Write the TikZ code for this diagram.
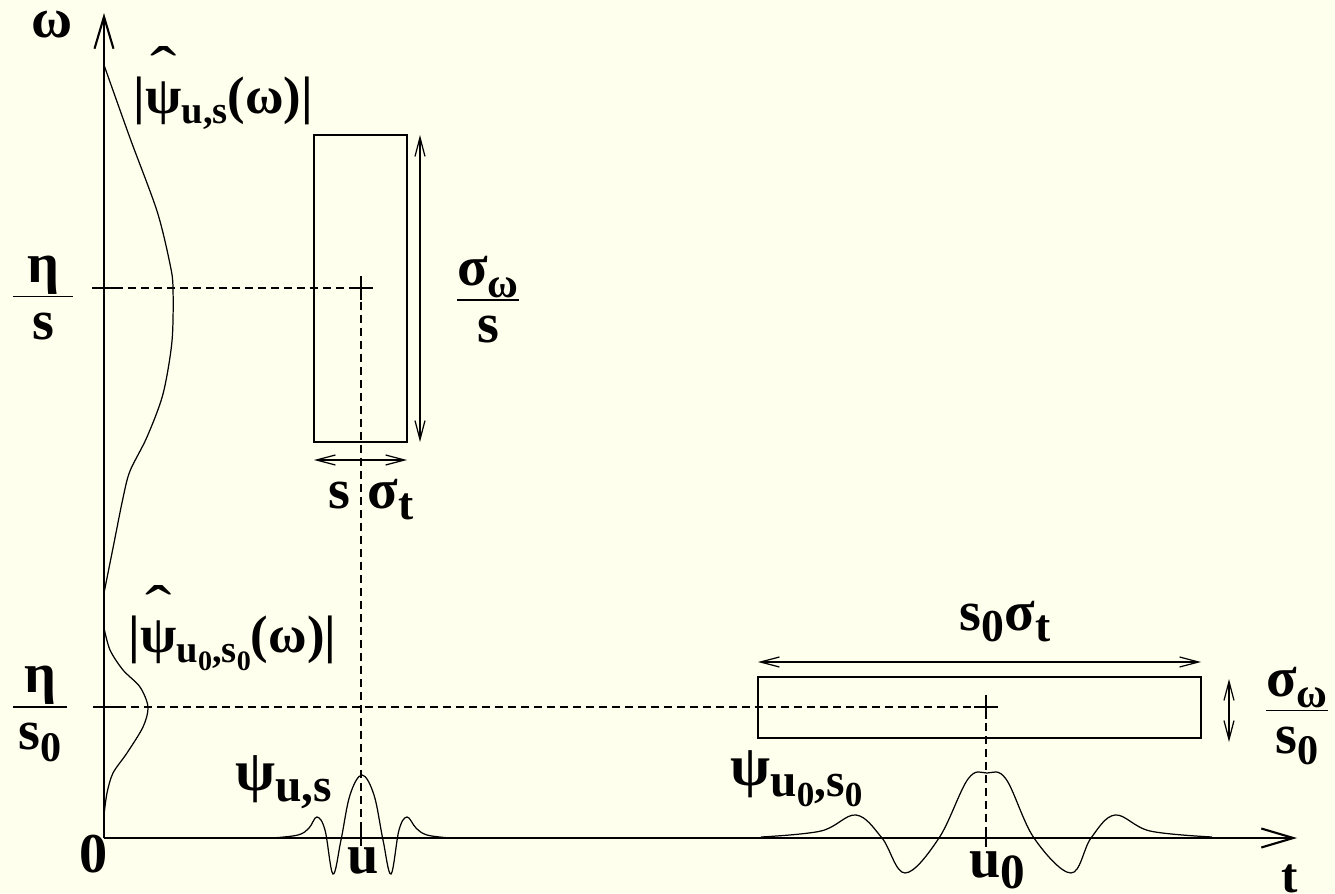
\documentclass[tikz,border=0pt]{standalone}
\usepackage{fontspec}
\setmainfont{Liberation Serif}
\usetikzlibrary{arrows.meta,calc}
\definecolor{paper}{HTML}{FFFFEE}
\newcommand{\fsz}[1]{\fontsize{#1}{#1}\selectfont}
\newcommand{\sbs}[2][12]{\raisebox{-0.45ex}{\fsz{#1}#2}}
\newcommand{\hpsi}{\ooalign{ψ\cr\hidewidth\raisebox{0.42em}{\scalebox{1.5}[1.2]{\mdseries ˆ}}\hidewidth\cr}}
\newcommand{\ffrac}[3][3pt]{$\textstyle\frac{\hbox{\kern#1#2\kern#1}}{\hbox{\raisebox{0pt}[\dimexpr\height+4pt\relax]{#3}}}$}

\begin{document}
\begin{tikzpicture}[x=0.1mm,y=-0.1mm,
  lab/.style={font=\fsz{16}\bfseries,inner sep=0pt},
  axis/.style={line width=0.6pt,-{Straight Barb[length=3.2mm,width=1.9mm]}},
  fine/.style={line width=0.35pt},
  guide/.style={fine,dash pattern=on 0.8mm off 0.5mm},
  span/.style={fine,{Straight Barb[length=1.9mm,width=1mm]}-{Straight Barb[length=1.9mm,width=1mm]}},
  tickmark/.style={line width=0.6pt}]
\fill[paper] (0,0) rectangle (1335,894);
\useasboundingbox (0,0) rectangle (1335,894);

\coordinate (O) at (104,838);
\coordinate (wend) at (104,13);
\coordinate (tend) at (1297,838);
\coordinate (c1) at (361,288);
\coordinate (c2) at (986,707);
\coordinate (b1a) at (314,135);
\coordinate (b1b) at (407,442);
\coordinate (b2a) at (758,677);
\coordinate (b2b) at (1201,738);

\draw[axis] (O) -- (wend);
\draw[axis] (O) -- (tend);

\draw[fine] (b1a) rectangle (b1b);
\draw[span] ($(b1a -| b1b)+(13,0)$) -- ($(b1b)+(13,0)$);
\draw[span] ($(b1a |- b1b)+(0,18)$) -- ($(b1b)+(0,18)$);
\draw[fine] (b2a) rectangle (b2b);
\draw[span] ($(b2a)+(0,-15)$) -- ($(b2a -| b2b)+(0,-15)$);
\draw[span] ($(b2a -| b2b)+(28,2)$) -- ($(b2b)+(28,4)$);

\draw[fine] ($(c1)+(-12,0)$) -- ($(c1)+(12,0)$) ($(c1)+(0,-12)$) -- ($(c1)+(0,12)$);
\draw[fine] ($(c2)+(-12,0)$) -- ($(c2)+(12,0)$) ($(c2)+(0,-12)$) -- ($(c2)+(0,12)$);
\draw[guide] ($(O |- c1)+(11,0)$) -- (c1) -- (c1 |- O);
\draw[guide] ($(O |- c2)+(14,0)$) -- (c2) -- (c2 |- O);

\draw[tickmark] ($(O |- c1)+(-12,0)$) -- ($(O |- c1)+(11,0)$);
\draw[tickmark] ($(O |- c2)+(-11,0)$) -- ($(O |- c2)+(14,0)$);
\draw[tickmark] ($(c1 |- O)+(0,-12)$) -- ($(c1 |- O)+(0,8)$);
\draw[tickmark] ($(c2 |- O)+(0,-10)$) -- ($(c2 |- O)+(0,9)$);

\draw[fine] plot[smooth] coordinates {(104,65) (130,138) (157,211) (170,264) (173,288) (172,341) (163,394) (147,437) (130,471) (123,498) (113,548) (104,593)};
\draw[fine] plot[smooth] coordinates {(104,628) (110,650) (123,670) (140,687) (148,707) (143,727) (127,753) (113,773) (107,793) (104,815)};

\draw[fine] plot[smooth,tension=0.6] coordinates {(272,838) (298,835) (309,828) (317,817) (325,830) (333,874) (341,840) (350,795) (362,775) (374,795) (383,840) (391,874) (399,830) (407,817) (416,828) (427,835) (450,838)};
\draw[fine] plot[smooth,tension=0.6] coordinates {(761,837) (821,831) (856,815) (882,838) (905,873) (939,838) (968,779) (987,773) (1006,779) (1034,838) (1071,873) (1091,838) (1115,815) (1150,831) (1212,837)};

\node[lab] (wlab) at (52,25) {ω};
\node[lab,font=\fsz{15}\bfseries,anchor=base west] (spec1) at (133,113) {|\hpsi\sbs[11]{u,s}(ω)|};
\node[lab,font=\fsz{15}\bfseries,anchor=base west] (spec2) at (128,652) {|\hpsi\sbs[11]{u\sbs[8]{0},s\sbs[8]{0}}(ω)|};
\node[lab] (f1) at (43,298) {\ffrac[4pt]{η}{s}};
\node[lab] (f2) at (40,714) {\ffrac{η}{s\sbs{0}}};
\node[lab] (f3) at (488,300) {\ffrac[0pt]{σ\sbs{ω}}{s}};
\node[lab] (f4) at (1297,716) {\ffrac[0pt]{σ\sbs{ω}}{s\sbs{0}}};
\node[lab,anchor=base west] (w1s) at (328,508) {s};
\node[lab,anchor=base west] (w1t) at (367,508) {σ\sbs[13]{t}};
\node[lab,anchor=base west] (w2ts) at (959,630) {s\sbs[13]{0}σ\sbs[13]{t}};
\node[lab,font=\fsz{16.5}\bfseries,anchor=base west] (psi1) at (235,790) {ψ\sbs[13.5]{u,s}};
\node[lab,font=\fsz{16.5}\bfseries,anchor=base west] (psi2) at (730,785) {ψ\sbs[13.5]{u\sbs[10]{0},s\sbs[10]{0}}};
\node[lab,anchor=base] (ulab) at (363,873) {u};
\node[lab,anchor=base west] (u0lab) at (969,877) {u\sbs[14]{0}};
\node[lab] (zero) at (94,854) {0};
\node[lab,font=\fsz{14}\bfseries] (tlab) at (1290,879) {t};
\end{tikzpicture}
\end{document}
